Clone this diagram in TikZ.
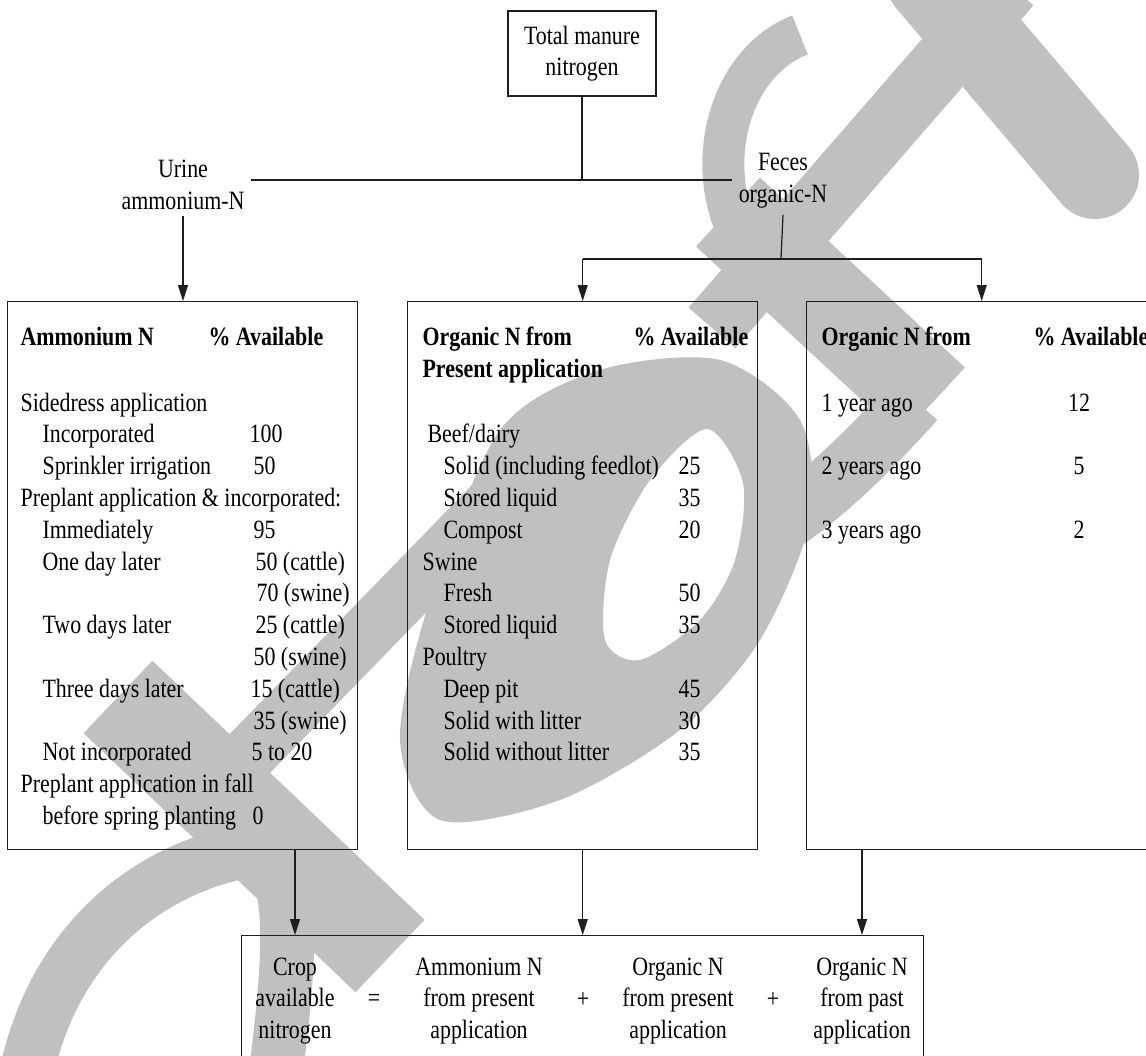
\documentclass[tikz,border=0pt]{standalone}
\usepackage{fontspec}
\setmainfont{Liberation Serif}[FakeStretch=0.83]
\usetikzlibrary{arrows.meta}
\definecolor{wmgray}{RGB}{192,192,192}
\definecolor{ink}{RGB}{30,30,30}

\begin{document}
\begin{tikzpicture}[x=0.5pt,y=-0.5pt,line width=0.6pt,draw=ink,
    font=\fontsize{13.2}{15.8}\selectfont,
    txt/.style={anchor=base west,inner sep=0pt},
    num/.style={anchor=base,inner sep=0pt},
    head/.style={txt,font=\fontsize{13.2}{15.8}\selectfont\bfseries},
    panel/.style={draw=ink,line width=0.7pt,rectangle,minimum width=175pt,minimum height=274pt,anchor=north west,inner sep=0pt},
    label node/.style={align=center,inner sep=3pt},
    arr/.style={-{Triangle[width=5pt,length=8pt]}},
    wm/.style={draw=wmgray}]
    \useasboundingbox (0,0) rectangle (1146,1055);

    % watermark
    \fill[wmgray,even odd rule]
        plot[smooth cycle] coordinates {(500,430) (600,370) (720,360) (800,420) (810,520) (760,640) (680,730) (560,800) (440,820) (400,740) (430,600)}
        plot[smooth cycle] coordinates {(707,429) (743,483) (735,560) (700,620) (640,660) (605,640) (610,560) (650,480)};
    \draw[wm,line width=50pt] (118,697) -- (390,956);
    \draw[wm,line width=27pt] (25,1080) .. controls (50,950) and (140,870) .. (250,850) .. controls (300,855) and (290,960) .. (275,1080);
    \draw[wm,line width=28pt] (190,815) -- (545,450);
    \draw[wm,line width=21pt] (800,35) .. controls (735,60) and (705,150) .. (735,225);
    \draw[wm,line width=47pt] (728,212) -- (933,402);
    \draw[wm,line width=31pt] (712,328) -- (1010,-15);
    \draw[wm,line width=44pt,line cap=round] (930,-20) -- (1095,175);
    \draw[wm,line width=30pt] (915,400) .. controls (870,450) and (820,500) .. (770,530);

    % top of the tree
    \node[draw=ink,line width=0.7pt,align=center,minimum width=74pt,minimum height=42.5pt] at (582,53.5) (total) {Total manure\\nitrogen};
    \node[label node] at (183,185) (urine) {Urine\\ammonium-N};
    \node[label node] at (783,181) (feces) {Feces\\organic-N};
    \coordinate (spine) at (582,180);
    \coordinate (fork) at (781,259);

    % the three tables
    \node[panel] at (7,301) (ammbox) {};
    \node[panel] at (407,301) (orgbox) {};
    \node[panel] at (806,301) (pastbox) {};

    \node[head] at (20,345) (ah) {Ammonium N};
    \node[head] at (208,345) (ap) {\% Available};
    \node[txt] at (20,411) (a0) {Sidedress application};
    \node[txt] at (42,442.8) (a1) {Incorporated};
    \node[txt] at (249,442.8) (a1v) {100};
    \node[txt] at (42,474.6) (a2) {Sprinkler irrigation};
    \node[txt] at (253,474.6) (a2v) {50};
    \node[txt] at (20,506.4) (a3) {Preplant application \& incorporated:};
    \node[txt] at (42,538.2) (a4) {Immediately};
    \node[txt] at (253,538.2) (a4v) {95};
    \node[txt] at (42,570) (a5) {One day later};
    \node[txt] at (255,570) (a5v) {50 (cattle)};
    \node[txt] at (256,601.8) (a6v) {70 (swine)};
    \node[txt] at (42,633.6) (a7) {Two days later};
    \node[txt] at (255,633.6) (a7v) {25 (cattle)};
    \node[txt] at (253,665.4) (a8v) {50 (swine)};
    \node[txt] at (42,697.2) (a9) {Three days later};
    \node[txt] at (250,697.2) (a9v) {15 (cattle)};
    \node[txt] at (253,729) (a10v) {35 (swine)};
    \node[txt] at (42,760.8) (a11) {Not incorporated};
    \node[txt] at (251,760.8) (a11v) {5 to 20};
    \node[txt] at (20,792.6) (a12) {Preplant application in fall};
    \node[txt] at (42,824.4) (a13) {before spring planting};
    \node[txt] at (252,824.4) (a13v) {0};

    \node[head] at (422,345) (oh) {Organic N from};
    \node[head] at (422,377) (oh2) {Present application};
    \node[head] at (633,345) (op) {\% Available};
    \node[txt] at (427,442.8) (o1) {Beef/dairy};
    \node[txt] at (443,474.6) (o2) {Solid (including feedlot)};
    \node[txt] at (678,474.6) (o2v) {25};
    \node[txt] at (443,506.4) (o3) {Stored liquid};
    \node[txt] at (678,506.4) (o3v) {35};
    \node[txt] at (443,538.2) (o4) {Compost};
    \node[txt] at (678,538.2) (o4v) {20};
    \node[txt] at (422,570) (o5) {Swine};
    \node[txt] at (443,601.8) (o6) {Fresh};
    \node[txt] at (678,601.8) (o6v) {50};
    \node[txt] at (443,633.6) (o7) {Stored liquid};
    \node[txt] at (678,633.6) (o7v) {35};
    \node[txt] at (422,665.4) (o8) {Poultry};
    \node[txt] at (443,697.2) (o9) {Deep pit};
    \node[txt] at (678,697.2) (o9v) {45};
    \node[txt] at (443,729) (o10) {Solid with litter};
    \node[txt] at (678,729) (o10v) {30};
    \node[txt] at (443,760.8) (o11) {Solid without litter};
    \node[txt] at (678,760.8) (o11v) {35};

    \node[head] at (821,345) (ph) {Organic N from};
    \node[head] at (1033,345) (pp) {\% Available};
    \node[txt] at (821,411) (p1) {1 year ago};
    \node[num] at (1079,411) (p1v) {12};
    \node[txt] at (821,474.6) (p2) {2 years ago};
    \node[num] at (1079,474.6) (p2v) {5};
    \node[txt] at (821,538.2) (p3) {3 years ago};
    \node[num] at (1079,538.2) (p3v) {2};

    % the sum
    \node[draw=ink,line width=0.7pt,minimum width=341pt,minimum height=70pt,anchor=north west] at (241,935) (sumbox) {};
    \node[label node] at (295,1001) (crop) {Crop\\available\\nitrogen};
    \node[label node] at (374,1000) (eq) {=};
    \node[label node] at (479,1001) (ammpres) {Ammonium N\\from present\\application};
    \node[label node] at (583,1000) (plus1) {+};
    \node[label node] at (678,1001) (orgpres) {Organic N\\from present\\application};
    \node[label node] at (773,1000) (plus2) {+};
    \node[label node] at (862,1001) (orgpast) {Organic N\\from past\\application};

    \draw (total.south) -- (spine);
    \draw (urine.east |- spine) -- (feces.west |- spine);
    \draw[arr] (urine.south) -- (urine.south |- ammbox.north);
    \draw (feces.south) -- (fork);
    \draw (orgbox.north |- fork) -- (pastbox.north |- fork);
    \draw[arr] (orgbox.north |- fork) -- (orgbox.north);
    \draw[arr] (pastbox.north |- fork) -- (pastbox.north);
    \draw[arr] (ammbox.south -| crop) -- (crop |- sumbox.north);
    \draw[arr] (orgbox.south) -- (orgbox.south |- sumbox.north);
    \draw[arr] (pastbox.south -| orgpast) -- (orgpast |- sumbox.north);
\end{tikzpicture}
\end{document}
